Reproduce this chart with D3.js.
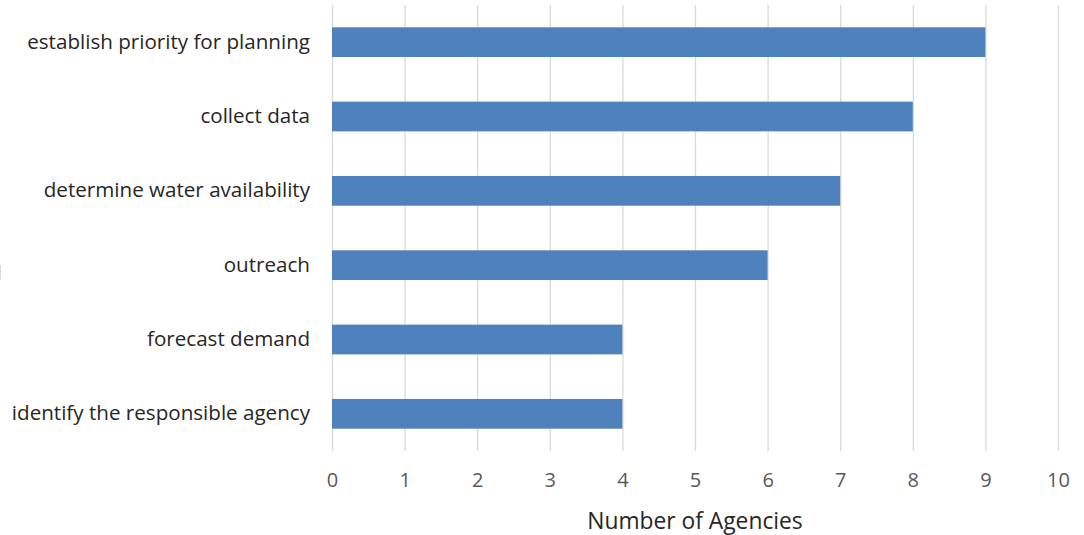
<!DOCTYPE html>
<html>
<head>
<meta charset="utf-8">
<script src="https://cdn.jsdelivr.net/npm/d3@7"></script>
<style>
  body { margin: 0; background: #fff; }
  svg { display: block; }
</style>
</head>
<body>
<div id="chart"></div>
<script>
const categories = [
    "establish priority for planning",
    "collect data",
    "determine water availability",
    "outreach",
    "forecast demand",
    "identify the responsible agency"
];
const agencyCounts = [9, 8, 7, 6, 4, 4];
const xTicks = [0, 1, 2, 3, 4, 5, 6, 7, 8, 9, 10];

const FONT = "'Open Sans', sans-serif";
const W = 1084, H = 535;
const margin = { top: 5, right: 26, bottom: 84, left: 332 };
const width = W - margin.left - margin.right;
const height = H - margin.top - margin.bottom;

const svg = d3.select("#chart")
    .append("svg")
    .attr("width", W)
    .attr("height", H)
    .attr("font-family", FONT);

// faint mark at the left edge of the original picture
svg.append("line")
    .attr("x1", 0.5).attr("x2", 0.5)
    .attr("y1", 265).attr("y2", 280)
    .attr("stroke", "#d9d9d9");

const g = svg.append("g")
    .attr("transform", `translate(${margin.left},${margin.top})`);

const x = d3.scaleLinear()
    .domain([0, 10])
    .range([0, width]);

const y = d3.scaleBand()
    .domain(categories)
    .range([0, height])
    .paddingInner(0.6)
    .paddingOuter(0.3);

// --- gridlines ---
const grid = g.append("g")
    .attr("class", "grid")
    .call(d3.axisBottom(x).tickValues(xTicks).tickSize(height).tickFormat(""));
grid.select(".domain").remove();
grid.selectAll("line").attr("stroke", "#d9d9d9").attr("stroke-width", 1.3);

// --- bars ---
g.selectAll(".bar")
    .data(agencyCounts)
    .enter()
    .append("rect")
    .attr("class", "bar")
    .attr("x", x(0))
    .attr("y", (d, i) => y(categories[i]))
    .attr("width", d => x(d) - x(0))
    .attr("height", y.bandwidth())
    .attr("fill", "#4f81bd");

// --- x axis labels ---
const xAxis = g.append("g")
    .attr("transform", `translate(0,${height})`)
    .call(d3.axisBottom(x).tickValues(xTicks).tickSize(0).tickPadding(22))
    .attr("font-family", FONT)
    .attr("font-size", 20);
xAxis.select(".domain").remove();
xAxis.selectAll("text").attr("fill", "#595959");

// --- y axis labels ---
const yAxis = g.append("g")
    .call(d3.axisLeft(y).tickSize(0).tickPadding(22))
    .attr("font-family", FONT)
    .attr("font-size", 20.6);
yAxis.select(".domain").remove();
yAxis.selectAll("text").attr("fill", "#262626");

// --- axis title ---
g.append("text")
    .attr("x", width / 2)
    .attr("y", height + 78)
    .attr("text-anchor", "middle")
    .attr("font-size", 22.8)
    .attr("fill", "#262626")
    .text("Number of Agencies");
</script>
</body>
</html>
